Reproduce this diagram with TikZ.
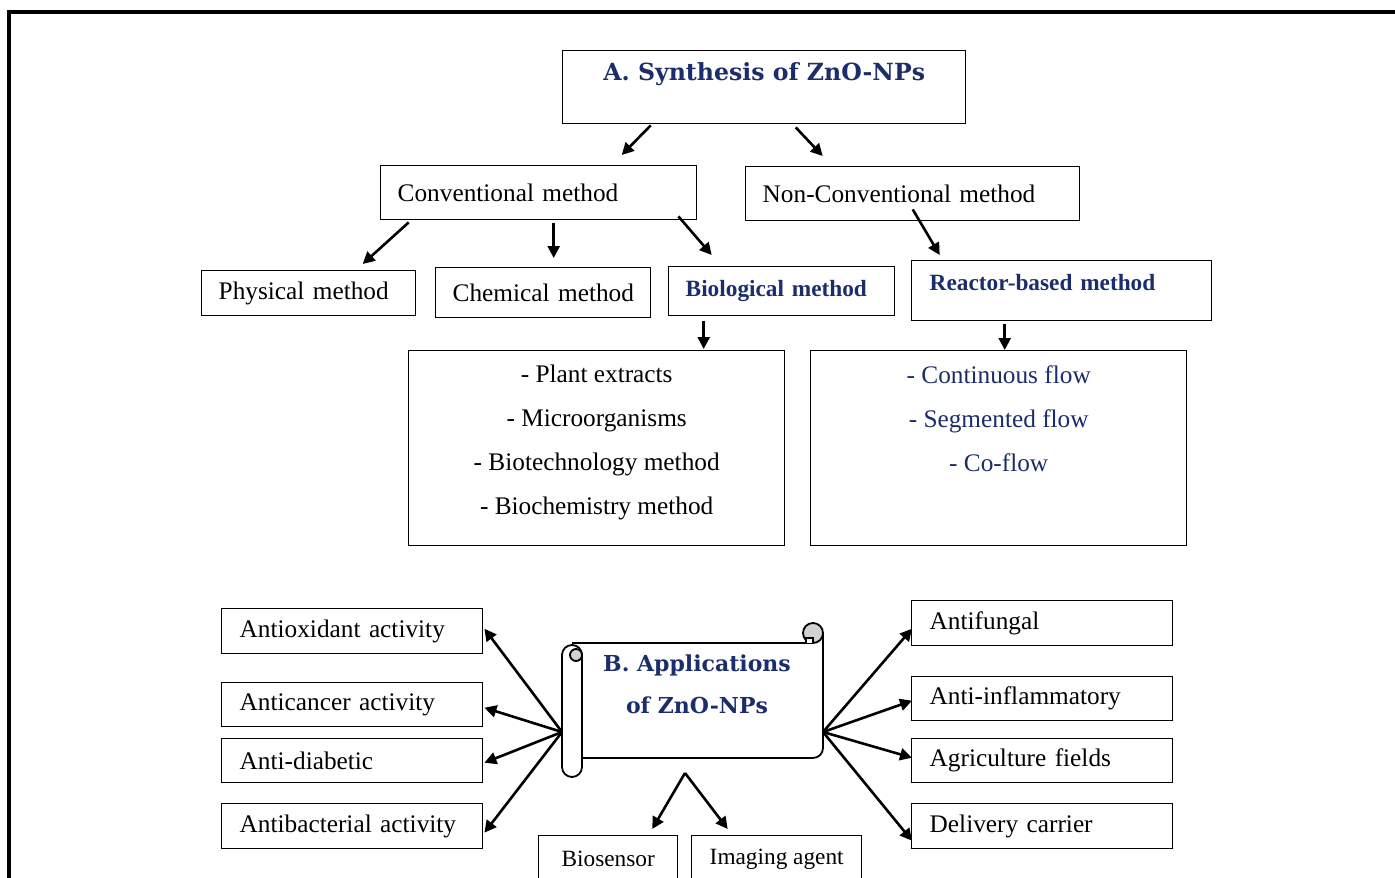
\documentclass[tikz,border=0pt]{standalone}
\usepackage{fontspec}
\setmainfont{Liberation Serif}
\newfontfamily\ttlfamily{DejaVu Serif}
\usetikzlibrary{arrows.meta,positioning,calc}
\definecolor{navy}{HTML}{1B2D6B}
\newcommand\txtf{\fontsize{12.65}{22}\selectfont}
\newcommand\smf{\fontsize{11.65}{14}\selectfont}
\newcommand\ttlf{\ttlfamily\bfseries\fontsize{11}{21}\selectfont}
\tikzset{
  box/.style={draw, line width=0.7pt, inner sep=0pt, anchor=north west, font=\txtf},
  lbox/.style={box, align=left, inner xsep=8.5pt},
  arr/.style={line width=1.3pt, -{Triangle[length=6pt,width=6pt]}},
  scrl/.style={line width=0.9pt},
}

\begin{document}
\begin{tikzpicture}[x=0.5pt,y=-0.5pt]
\useasboundingbox (0,0) rectangle (1395,877);
\clip (0,0) rectangle (1395,877);
\draw[line width=1.6pt] (9,12) rectangle (1420,900);

% A. synthesis part
\node[box, font=\ttlf\fontsize{11.8}{21}\selectfont, text=navy, minimum width=201.5pt, text height=15pt, text depth=21.5pt] (synth) at (562,50) {A. Synthesis of ZnO-NPs};
\node[lbox, text width=141pt, minimum height=27pt] (conv) at (380,165) {Conventional method};
\node[lbox, text width=150pt, minimum height=27pt] (nonconv) at (745,166) {Non-Conventional method};
\node[lbox, text width=90pt, minimum height=22.5pt] (phys) at (201,270) {Physical method};
\node[lbox, text width=90.5pt, minimum height=25pt] (chem) at (435,267) {\mbox{Chemical method}};
\node[lbox, text width=96pt, minimum height=24.5pt, font=\bfseries\smf, text=navy] (bio) at (668,266) {Biological method};
\node[lbox, inner xsep=9pt, text width=132pt, text height=15pt, text depth=15pt, font=\bfseries\smf, text=navy] (reactor) at (911,260) {Reactor-based method};

\node[box, minimum width=188pt, minimum height=97.5pt] (biolist) at (408,350) {};
\node[align=center, inner sep=0pt, font=\txtf, below=7.5pt of biolist.north] (biotxt) {- Plant extracts\\- Microorganisms\\- Biotechnology method\\- Biochemistry method};
\node[box, minimum width=188pt, minimum height=97.5pt] (flowlist) at (810,350) {};
\node[align=center, inner sep=0pt, font=\txtf, text=navy, below=7.5pt of flowlist.north] (flowtxt) {- Continuous flow\\- Segmented flow\\- Co-flow};

\draw[arr] ($(synth.south)+(-113.5,1)$) -- ($(conv.north)+(83,-10)$);
\draw[arr] ($(synth.south)+(31.5,3)$) -- ($(nonconv.north)+(-90,-10)$);
\draw[arr] ($(conv.south)+(-130,2)$) -- ($(phys.north)+(54,-6)$);
\draw[arr] ($(conv.south)+(15,3)$) -- ($(chem.north)+(10.5,-9)$);
\draw[arr] ($(conv.south east)+(-19,-4)$) -- ($(bio.north)+(-70,-11)$);
\draw[arr] ($(nonconv.south)+(0,-12)$) -- ($(reactor.north)+(-122,-5)$);
\draw[arr] ($(bio.south)+(-78,5)$) -- ($(biolist.north)+(107,-1)$);
\draw[arr] ($(reactor.south)+(-57,3)$) -- ($(flowlist.north)+(6,0)$);

% B. applications part
\fill[white] (572,643) rectangle (823,758);
\draw[scrl] (572,643) -- (813,643);
\draw[scrl, rounded corners=5pt] (823,633) -- (823,758) -- (582,758);
\draw[scrl, fill=gray!35] (813,633) circle (5pt);
\draw[scrl, fill=white] (806,643) -- (806,638) -- (813,638) -- (813,643);
\draw[scrl, fill=white, rounded corners=5pt] (562,645) rectangle (582,777);
\draw[scrl, fill=gray!35] (576,655) circle (3pt);
\node[align=center, font=\ttlf, text=navy] (app) at (697,684) {B. Applications\\of ZnO-NPs};
\coordinate (appL) at (562,732);
\coordinate (appR) at (823,732);
\coordinate (appB) at (685,773);

\node[lbox, inner xsep=9pt, text width=112.5pt, minimum height=22.5pt] (antiox) at (221,608) {Antioxidant activity};
\node[lbox, inner xsep=9pt, text width=112.5pt, minimum height=22pt] (antican) at (221,682) {Anticancer activity};
\node[lbox, inner xsep=9pt, text width=112.5pt, minimum height=22pt] (antidia) at (221,738) {Anti-diabetic};
\node[lbox, inner xsep=9pt, text width=112.5pt, minimum height=22.5pt] (antibac) at (221,803) {Antibacterial activity};
\node[lbox, inner xsep=9pt, text width=112.5pt, minimum height=22.5pt] (antifun) at (911,600) {Antifungal};
\node[lbox, inner xsep=9pt, text width=112.5pt, minimum height=22pt] (antiinf) at (911,676) {Anti-inflammatory};
\node[lbox, inner xsep=9pt, text width=112.5pt, minimum height=22pt] (agri) at (911,738) {Agriculture fields};
\node[lbox, inner xsep=9pt, text width=112.5pt, minimum height=22.5pt] (deliv) at (911,803) {Delivery carrier};
\node[box, font=\smf, minimum width=69.5pt, minimum height=23.5pt] (biosen) at (538,835) {Biosensor};
\node[box, font=\smf, minimum width=85pt, minimum height=23.5pt] (imag) at (691,835) {Imaging agent};

\draw[arr] (appL) -- ($(antiox.east)+(1,-2.5)$);
\draw[arr] (appL) -- ($(antican.east)+(1,3)$);
\draw[arr] (appL) -- ($(antidia.east)+(1,2)$);
\draw[arr] (appL) -- ($(antibac.east)+(1,6.5)$);
\draw[arr] (appR) -- ($(antifun.west)+(1,5.5)$);
\draw[arr] (appR) -- ($(antiinf.west)+(1,2)$);
\draw[arr] (appR) -- ($(agri.west)+(1,-3)$);
\draw[arr] (appR) -- ($(deliv.west)+(1,14.5)$);
\draw[arr] (appB) -- ($(biosen.north)+(44,-6)$);
\draw[arr] (appB) -- ($(imag.north)+(-49,-6)$);
\end{tikzpicture}
\end{document}
